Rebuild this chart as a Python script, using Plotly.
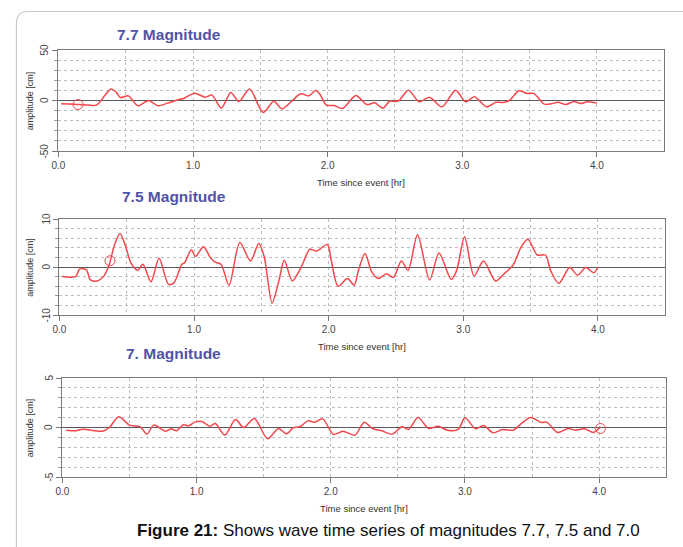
import plotly.graph_objects as go

W, H = 683, 547

# ---------------- data ----------------
titles = ["7.7 Magnitude", "7.5 Magnitude", "7. Magnitude"]
x_title = "Time since event [hr]"
y_title = "amplitude [cm]"
caption_bold = "Figure 21:"
caption_rest = " Shows wave time series of magnitudes 7.7, 7.5 and 7.0"
x_ticks = [0, 1, 2, 3, 4]
x_tick_labels = ["0.0", "1.0", "2.0", "3.0", "4.0"]

t1 = [0.02, 0.08, 0.145, 0.22, 0.28, 0.31, 0.35, 0.39, 0.43, 0.46, 0.52, 0.59, 0.67, 0.74, 0.81,
      0.89, 0.93, 1.01, 1.09, 1.14, 1.21, 1.28, 1.34, 1.42, 1.52, 1.60, 1.66, 1.73, 1.80, 1.86,
      1.91, 1.94, 1.99, 2.05, 2.11, 2.21, 2.29, 2.35, 2.41, 2.46, 2.50, 2.53, 2.60, 2.68, 2.755,
      2.85, 2.95, 3.025, 3.09, 3.18, 3.25, 3.30, 3.35, 3.42, 3.48, 3.53, 3.61, 3.66, 3.71, 3.77,
      3.83, 3.88, 3.93, 4.0]
a1 = [-3.3, -3.5, -4, -4.5, -4.6, -1, 6, 11.5, 8, 3, 4.6, -5.3, 0, -5.3, -2.6,
      0.7, 2, 7.3, 3.3, 5.3, -7.6, 7.9, -1, 11.5, -11.9, -0.7, -8.3, -1, 6.6, 4.6,
      9.9, 6.6, -4.6, -5, -7.9, 5, -4, -2.3, -7.6, -0.7, -1, 0, 10.2, -1.3, 3.3,
      -6.3, 10.2, -1.3, 3.6, -6.3, -1.7, -2, 0, 9.6, 7, 7, -3.6, -3.3, -1.7, -4,
      -1, -3, -1.3, -2.6]
m1 = ([0.145], [-4.0])

t2 = [0.02, 0.12, 0.15, 0.20, 0.23, 0.28, 0.33, 0.37, 0.41, 0.45, 0.49, 0.53, 0.58, 0.62, 0.68,
      0.74, 0.81, 0.85, 0.91, 0.93, 0.98, 1.01, 1.07, 1.12, 1.15, 1.20, 1.26, 1.34, 1.42, 1.48,
      1.52, 1.58, 1.63, 1.67, 1.73, 1.80, 1.86, 1.91, 1.99, 2.02, 2.07, 2.14, 2.19, 2.22, 2.27,
      2.32, 2.37, 2.43, 2.48, 2.54, 2.59, 2.66, 2.75, 2.82, 2.91, 2.95, 3.01, 3.08, 3.15, 3.24,
      3.30, 3.37, 3.43, 3.48, 3.55, 3.61, 3.65, 3.71, 3.79, 3.85, 3.91, 3.97, 4.0]
a2 = [-2.0, -2.0, -0.4, -0.6, -2.7, -2.9, -1.9, 0.56, 4.7, 7.0, 4.4, 0.9, -0.7, 0.56, -3.1,
      1.8, -3.6, -3.3, 0.56, 0.9, 3.6, 2.2, 4.2, 2.0, 1.1, 0.56, -3.8, 5.1, 1.25, 4.9,
      2.3, -7.5, -2.9, 1.4, -2.9, 0.2, 3.7, 3.3, 4.7, 1.25, -4.0, -2.4, -3.8, -0.8, 2.8,
      -1.0, -2.4, -1.4, -2.2, 1.25, -0.7, 6.7, -2.7, 2.9, -2.6, -0.8, 6.3, -1.9, 1.25, -2.9,
      -1.5, 0.4, 4.2, 5.8, 2.5, 2.5, -0.8, -3.4, -0.1, -1.7, -0.1, -1.2, 0]
m2 = ([0.375], [1.3])

t3 = [0.027, 0.10, 0.15, 0.30, 0.35, 0.42, 0.50, 0.58, 0.63, 0.68, 0.77, 0.81, 0.85, 0.90, 0.94,
      0.99, 1.04, 1.10, 1.14, 1.21, 1.29, 1.35, 1.43, 1.53, 1.61, 1.67, 1.72, 1.77, 1.83, 1.88,
      1.94, 2.02, 2.09, 2.18, 2.25, 2.31, 2.38, 2.46, 2.53, 2.58, 2.65, 2.73, 2.80, 2.87, 2.95,
      3.00, 3.08, 3.14, 3.21, 3.28, 3.36, 3.42, 3.49, 3.57, 3.61, 3.69, 3.77, 3.82, 3.89, 3.96, 4.01]
a3 = [-0.27, -0.33, -0.17, -0.37, 0, 1.08, 0.24, 0.07, -0.67, 0.24, -0.37, -0.13, -0.33, 0.27, 0.17,
      0.57, 0.6, 0.13, 0.4, -0.77, 0.8, 0, 0.9, -1.14, -0.1, -0.64, -0.03, 0.07, 0.67, 0.54,
      0.87, -0.7, -0.37, -0.77, 0.54, -0.1, -0.33, -0.67, 0.07, -0.2, 1.0, -0.1, 0.13, -0.27, -0.2,
      0.98, -0.13, 0.2, -0.54, -0.2, -0.27, 0.4, 1.0, 0.5, 0.54, -0.5, -0.1, -0.27, -0.13, -0.5, 0.07]
m3 = ([4.01], [-0.1])

y_limits = [50, 10, 5]
y_minor = [10, 2, 1]
x_limit = 4.5

series = [(t1, a1, m1), (t2, a2, m2), (t3, a3, m3)]

# ---------------- layout geometry (pixels) ----------------
# left, right, top, bottom of each plot area
boxes = [(52, 664, 50, 151), (53, 665, 219, 315), (56, 666, 378, 477)]
title_pos = [(164, 34), (169, 196), (168, 353)]

def px(x):
    return x / W

def py(y):
    return 1 - y / H

FONT = "Liberation Sans, Arial, sans-serif"
RED = "#f2474b"
TITLE_BLUE = "#5153a8"

fig = go.Figure()
annotations = []
layout_axes = {}

for i, ((t, a, m), (l, r, tp, bt)) in enumerate(zip(series, boxes)):
    n = "" if i == 0 else str(i + 1)
    xa, ya = "x" + n, "y" + n
    fig.add_trace(go.Scatter(x=t, y=a, mode="lines", xaxis=xa, yaxis=ya,
                             line=dict(color=RED, width=1.5, shape="spline", smoothing=0.8),
                             showlegend=False, hoverinfo="skip"))
    fig.add_trace(go.Scatter(x=m[0], y=m[1], mode="markers", xaxis=xa, yaxis=ya,
                             marker=dict(symbol="circle-open", size=10, color=RED,
                                         line=dict(color=RED, width=1)),
                             showlegend=False, hoverinfo="skip"))
    lim = y_limits[i]
    layout_axes["xaxis" + n] = dict(
        domain=[px(l), px(r)], range=[0, x_limit], anchor=ya,
        tickmode="array", tickvals=x_ticks, ticktext=x_tick_labels,
        ticks="outside", ticklen=5, tickcolor="#777",
        showline=True, mirror=True, linecolor="#7a7a7a", linewidth=1,
        showgrid=True, gridcolor="#bdbdbd", griddash="dot", gridwidth=1,
        minor=dict(tickvals=[0.5, 1.5, 2.5, 3.5], showgrid=True, gridcolor="#bdbdbd",
                   griddash="dot", ticks=""),
        zeroline=False,
        tickfont=dict(family=FONT, size=10, color="#444"),
        fixedrange=True,
    )
    layout_axes["yaxis" + n] = dict(
        domain=[py(bt), py(tp)], range=[-lim, lim], anchor=xa,
        tickmode="array", tickvals=[-lim, 0, lim], showticklabels=False,
        ticks="outside", ticklen=5, tickcolor="#777",
        showline=True, mirror=True, linecolor="#7a7a7a", linewidth=1,
        showgrid=False,
        minor=dict(dtick=y_minor[i], tick0=0, showgrid=True, gridcolor="#bdbdbd",
                   griddash="dot", ticks="outside", ticklen=3, tickcolor="#999"),
        zeroline=True, zerolinecolor="#5a5a5a", zerolinewidth=1,
        fixedrange=True,
    )
    # rotated y tick labels, centred on their ticks
    for v in (-lim, 0, lim):
        annotations.append(dict(x=px(l - 14), y=v, xref="paper", yref=ya,
                                text=str(v), showarrow=False, textangle=-90,
                                font=dict(family=FONT, size=10, color="#444"),
                                xanchor="center", yanchor="middle"))
    # panel title
    annotations.append(dict(x=px(title_pos[i][0]), y=py(title_pos[i][1]), xref="paper", yref="paper",
                            text="<b>%s</b>" % titles[i], showarrow=False,
                            font=dict(family=FONT, size=15.5, color=TITLE_BLUE),
                            xanchor="center", yanchor="middle"))
    # x axis title
    annotations.append(dict(x=px((l + r) / 2), y=py(bt + 31), xref="paper", yref="paper",
                            text=x_title, showarrow=False,
                            font=dict(family=FONT, size=9.5, color="#333"),
                            xanchor="center", yanchor="middle"))
    # y axis title
    annotations.append(dict(x=px(23), y=py((tp + bt) / 2), xref="paper", yref="paper",
                            text=y_title, showarrow=False, textangle=-90,
                            font=dict(family=FONT, size=9, color="#333"),
                            xanchor="center", yanchor="middle"))

annotations.append(dict(x=px(385), y=py(530), xref="paper", yref="paper",
                        text="<b>%s</b>%s" % (caption_bold, caption_rest), showarrow=False,
                        font=dict(family=FONT, size=17, color="#111"),
                        xanchor="center", yanchor="middle"))

# outer rounded frame (top and left edges)
x0, y0, rr = 9.5, 11.5, 12
frame_path = "M %f,%f L %f,%f Q %f,%f %f,%f L %f,%f" % (
    px(x0), py(H), px(x0), py(y0 + rr), px(x0), py(y0), px(x0 + rr), py(y0), px(W + 5), py(y0))

fig.update_layout(
    width=W, height=H,
    margin=dict(l=0, r=0, t=0, b=0),
    paper_bgcolor="white", plot_bgcolor="white",
    annotations=annotations,
    shapes=[dict(type="path", path=frame_path, xref="paper", yref="paper",
                 line=dict(color="#c8c8c8", width=1.2), layer="below")],
    **layout_axes,
)

fig.write_html("out.html", config={"displayModeBar": False},
               post_script="document.body.style.margin='0';document.body.style.overflow='hidden';")
